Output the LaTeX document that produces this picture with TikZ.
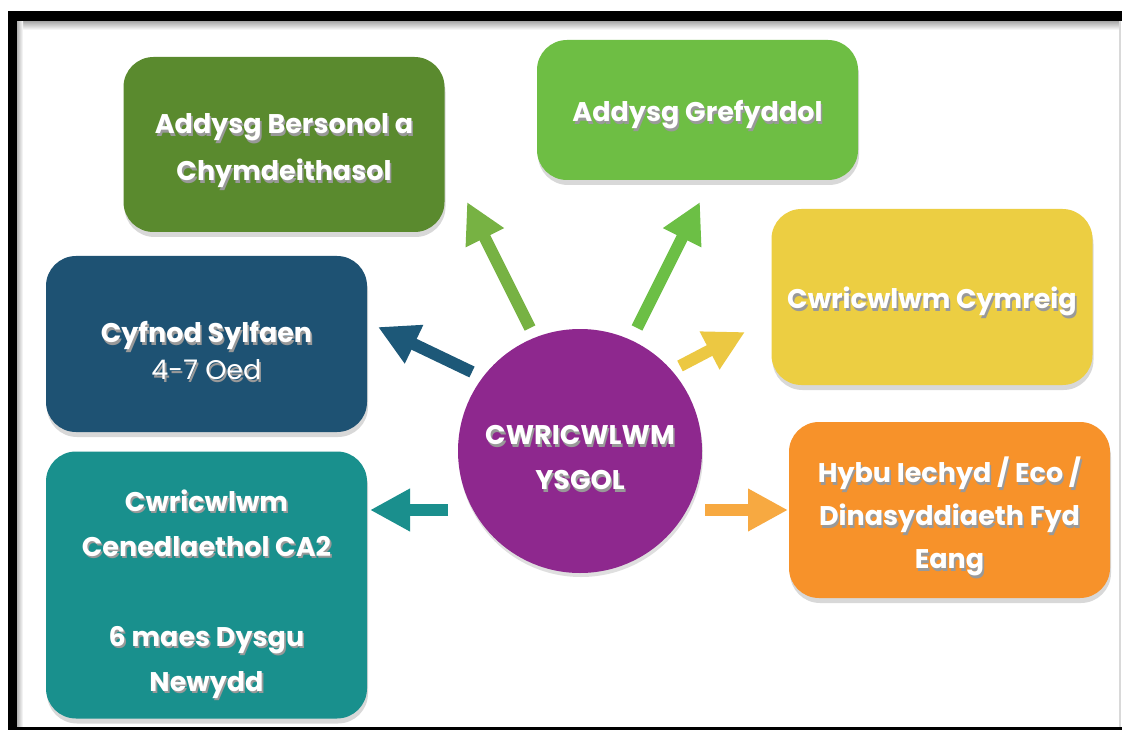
\documentclass[tikz,border=0pt]{standalone}
\usepackage{fontspec}
\setmainfont{Poppins}
\usetikzlibrary{arrows.meta,shadows}
\definecolor{cPSE}{HTML}{5A8A2E}
\definecolor{cAG}{HTML}{6EBE44}
\definecolor{cCS}{HTML}{1E5273}
\definecolor{cCC}{HTML}{ECCE42}
\definecolor{cCN}{HTML}{19908D}
\definecolor{cHY}{HTML}{F7922A}
\definecolor{cPUR}{HTML}{8E288E}
\definecolor{aPSE}{HTML}{77B243}
\definecolor{aAG}{HTML}{6CBF45}
\definecolor{aCS}{HTML}{1D5878}
\definecolor{aCC}{HTML}{ECC842}
\definecolor{aCN}{HTML}{1A8F8D}
\definecolor{aHY}{HTML}{F7A941}
\newcommand\shl[1]{\makebox[0pt][l]{\hspace{1.6pt}\raisebox{-2.4pt}{\textcolor{black!40}{#1}}}#1}
\begin{document}
\begin{tikzpicture}[x=1pt,y=-1pt,
  box/.style={rectangle, rounded corners=30pt, minimum width=321pt, inner sep=0pt,
    drop shadow={shadow xshift=1pt, shadow yshift=-5pt, opacity=0.3}},
  txt/.style={inner sep=0pt, text=white, align=center, font=\bfseries\fontsize{27}{45}\selectfont},
  arr/.style={line width=12pt, -{Triangle[length=40pt,width=40pt]}},
]
\useasboundingbox (0,0) rectangle (1122,730);
\fill[white] (0,0) rectangle (1122,730);
% frame
\shade[top color=black!35, bottom color=white] (17,21) rectangle (1120,30);
\shade[left color=black!30, right color=white] (17,21) rectangle (23,727);
\fill[black] (8,11) rectangle (1122,21);
\fill[black] (8,11) rectangle (17,730);
\fill[black] (17,727) rectangle (1122,729.5);
\draw[black!15, line width=1.5pt] (1120,21) -- (1120,727);

% boxes
\node[box, fill=cPSE, minimum height=175pt] (pse) at (284,144.5) {};
\node[box, fill=cAG, minimum height=140pt] (ag) at (697.5,110) {};
\node[box, fill=cCS, minimum height=176pt] (cs) at (206.5,344) {};
\node[box, fill=cCC, minimum height=176pt] (cc) at (932,297) {};
\node[box, fill=cCN, minimum height=267pt] (cn) at (206.5,585) {};
\node[box, fill=cHY, minimum height=176pt] (hy) at (949.5,510) {};
\node[circle, fill=cPUR, minimum size=244pt, inner sep=0pt,
  drop shadow={shadow xshift=1pt, shadow yshift=-4pt, opacity=0.25}] (circ) at (580,451) {};

% texts
\node[txt, font=\bfseries\fontsize{27}{47}\selectfont] (pseT) at (284,152) {\shl{Addysg Bersonol a}\\\shl{Chymdeithasol}};
\node[txt] (agT) at (697.5,116) {\shl{Addysg Grefyddol}};
\node[txt, font=\bfseries\fontsize{27}{37}\selectfont] (csT) at (206.5,352) {\shl{Cyfnod Sylfaen}\\\mdseries\shl{4-7 Oed}};
\node[txt] (ccT) at (932,303) {\shl{Cwricwlwm Cymreig}};
\node[txt] (cnT) at (206.5,595) {\shl{Cwricwlwm}\\\shl{Cenedlaethol CA2}\\[0pt]\mbox{}\\\shl{6 maes Dysgu}\\\shl{Newydd}};
\node[txt, font=\bfseries\fontsize{27}{43}\selectfont] (hyT) at (949.5,518) {\shl{Hybu Iechyd / Eco /}\\\shl{Dinasyddiaeth Fyd}\\\shl{Eang}};
\node[txt, font=\bfseries\fontsize{27}{45}\selectfont] (circT) at (580,459) {\shl{CWRICWLWM}\\\shl{YSGOL}};

% arrow ends
\coordinate (t1) at (530,328); \coordinate (h1) at (467,202);
\coordinate (t2) at (637,328); \coordinate (h2) at (700,202);
\coordinate (t3) at (472,372); \coordinate (h3) at (378,327);
\coordinate (t4) at (680,366); \coordinate (h4) at (745,332);
\coordinate (t5) at (448,510); \coordinate (h5) at (370,510);
\coordinate (t6) at (705,510); \coordinate (h6) at (788,510);

\draw[arr, aPSE] (t1) -- (h1);
\draw[arr, aAG] (t2) -- (h2);
\draw[arr, aCS] (t3) -- (h3);
\draw[arr, aCC] (t4) -- (h4);
\draw[arr, aCN] (t5) -- (h5);
\draw[arr, aHY] (t6) -- (h6);
\end{tikzpicture}
\end{document}
